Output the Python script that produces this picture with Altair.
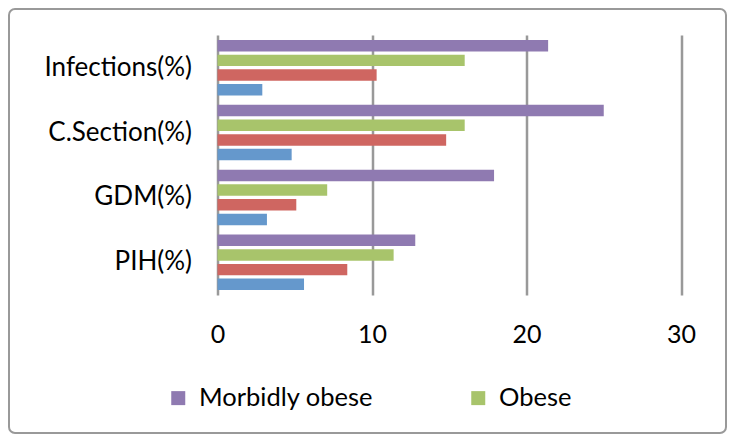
import altair as alt
import pandas as pd

categories = ["Infections(%)", "C.Section(%)", "GDM(%)", "PIH(%)"]
series = ["Morbidly obese", "Obese", "Overweight", "Normal"]
morbidly_obese = [21.4, 25.0, 17.9, 12.8]
obese = [16.0, 16.0, 7.1, 11.4]
overweight = [10.3, 14.8, 5.1, 8.4]
normal = [2.9, 4.8, 3.2, 5.6]
colors = ["#8F7AB1", "#A8C46B", "#CF6661", "#6598CC"]
x_ticks = [0, 10, 20, 30]

rows = []
for name, vals in zip(series, [morbidly_obese, obese, overweight, normal]):
    for cat, v in zip(categories, vals):
        rows.append({"category": cat, "series": name, "value": v})
df = pd.DataFrame(rows)

FONT = "Lato"

bars = alt.Chart(df).mark_bar().encode(
    x=alt.X("value:Q",
            scale=alt.Scale(domain=[0, 30], nice=False),
            axis=alt.Axis(values=x_ticks, title=None, domain=False, ticks=False,
                          grid=True, gridColor="#999999", gridWidth=2.5,
                          labelFontSize=25, labelFont=FONT, labelColor="black",
                          labelPadding=27, labelFlush=False)),
    y=alt.Y("category:N", sort=categories,
            scale=alt.Scale(paddingInner=0.145, paddingOuter=0.077),
            axis=alt.Axis(title=None, domain=False, ticks=False,
                          labelFontSize=26, labelFont=FONT, labelColor="black",
                          labelPadding=26, labelLimit=300)),
    yOffset=alt.YOffset("series:N", sort=series,
                        scale=alt.Scale(paddingInner=0.22, paddingOuter=0)),
    color=alt.Color("series:N",
                    scale=alt.Scale(domain=series, range=colors),
                    legend=alt.Legend(values=["Morbidly obese", "Obese"],
                                      orient="none", legendX=-52, legendY=350,
                                      direction="horizontal", columns=2,
                                      columnPadding=92, title=None, padding=0,
                                      symbolType="square", symbolSize=196,
                                      symbolStrokeWidth=0, symbolOpacity=1,
                                      labelFontSize=25.5, labelFont=FONT,
                                      labelColor="black", labelOffset=8,
                                      labelLimit=300)),
)

frame = alt.Chart(pd.DataFrame({"a": [0]})).mark_rect(
    fillOpacity=0, stroke="#999999", strokeWidth=2, cornerRadius=6
).encode(
    x=alt.value(-208.5), x2=alt.value(508.5),
    y=alt.value(-26), y2=alt.value(398),
)

chart = alt.layer(frame, bars).properties(
    width=463.5, height=260,
    autosize=alt.AutoSizeParams(type="none"),
    padding={"left": 209.5, "top": 27, "right": 46, "bottom": 139},
).configure_view(stroke=None)

chart.save("out.html", embed_options={"renderer": "svg", "actions": False})
